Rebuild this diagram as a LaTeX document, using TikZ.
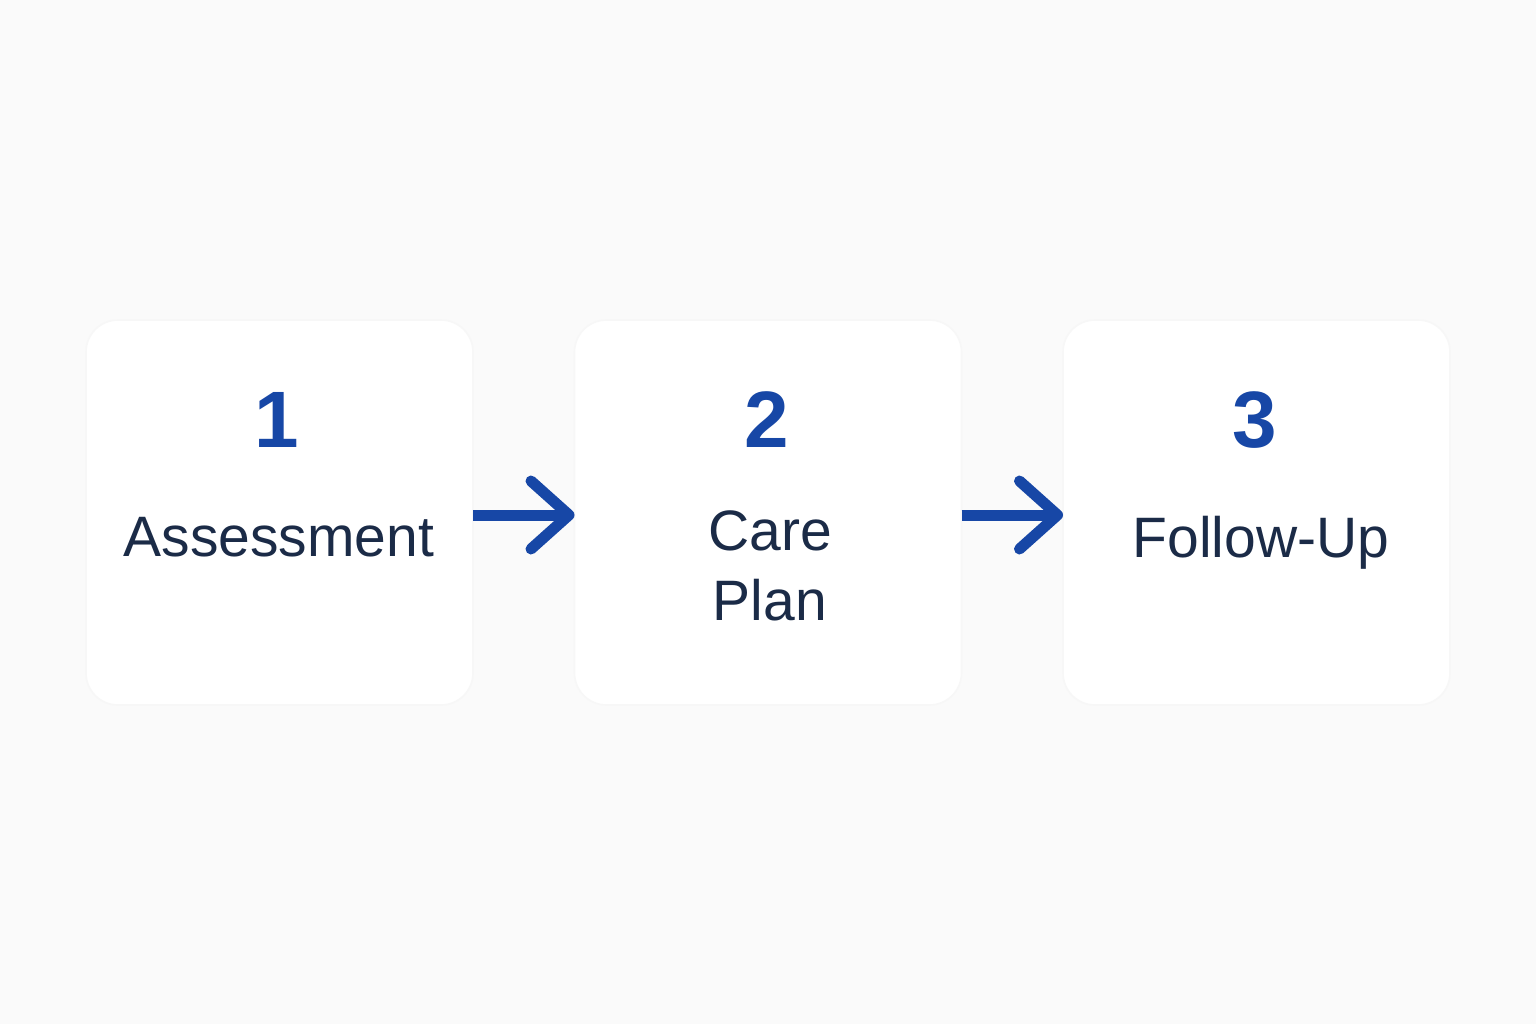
\documentclass[tikz,border=0pt]{standalone}
\usepackage{fontspec}
\setmainfont{Liberation Sans}
\usetikzlibrary{positioning,arrows.meta,shadows}
\definecolor{pagebg}{HTML}{FAFAFA}
\definecolor{stepblue}{HTML}{1747A6}
\definecolor{stepink}{HTML}{1B2B47}
\begin{document}
\begin{tikzpicture}[x=0.5pt,y=-0.5pt]
                        \tikzstyle{every node}=[inner sep=0,outer sep=0]
                        \tikzstyle{card}=[rectangle,fill=white,draw=black!3,line width=0.8pt,rounded corners=16pt,minimum width=193.5pt,minimum height=192.5pt]
                        \tikzstyle{num}=[text=stepblue,font=\fontsize{40}{40}\selectfont\bfseries,anchor=base]
                        \tikzstyle{label}=[text=stepink,font=\fontsize{28.5}{35}\selectfont,anchor=base,align=center]
                        \tikzstyle{link}=[draw=stepblue,line width=5.5pt,-{Straight Barb[length=19pt,width=34pt,round]}]
                        \fill[pagebg] (0,0) rectangle (1536,1024);
                        {
                            \foreach \i/\x in {1/279.5,2/768,3/1256.5} {
                                \node[card] (b\i) at (\x,512.5) {};
                            }
                            \node[num] (n1) at (277,447) {1};
                            \node[num] (n2) at (767,447) {2};
                            \node[num] (n3) at (1255,447) {3};
                            \node[label] (t1) at (279,556) {Assessment};
                            \node[label] (t2) at (770,620) {Care\\Plan};
                            \node[label] (t3) at (1261,557) {Follow-Up};

                            \draw[link] (b1.east |- 0,515) -- (b2.west |- 0,515);
                            \draw[link] (b2.east |- 0,515) -- (b3.west |- 0,515);
                        }
\end{tikzpicture}
\end{document}
